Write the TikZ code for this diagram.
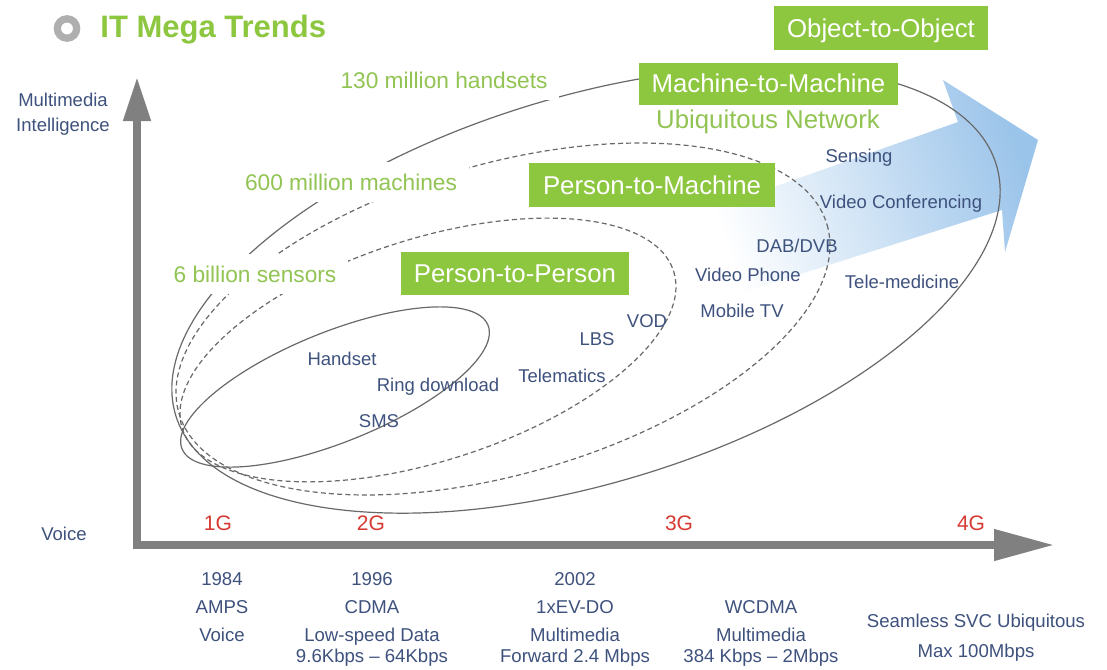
\documentclass[tikz,border=0pt]{standalone}
\usepackage{fontspec}
\setmainfont{Liberation Sans}
\usetikzlibrary{arrows.meta}
\definecolor{boxgreen}{RGB}{141,198,63}
\definecolor{lblgreen}{RGB}{146,196,84}
\definecolor{txtblue}{RGB}{62,82,125}
\definecolor{glred}{RGB}{214,58,50}
\definecolor{axisgray}{RGB}{128,128,128}
\definecolor{curvegray}{RGB}{105,105,105}
\definecolor{ringgray}{RGB}{175,175,175}
\definecolor{arrowblue}{RGB}{155,196,234}
\begin{document}
\begin{tikzpicture}[x=0.5pt,y=-0.5pt,
  bluetxt/.style={anchor=base, inner sep=0pt, text=txtblue, font=\fontsize{9.25}{11}\selectfont},
  bottomtxt/.style={anchor=base, inner sep=0pt, text=txtblue, font=\fontsize{9.3}{11}\selectfont},
  gentxt/.style={anchor=base, inner sep=0pt, text=glred, font=\fontsize{10.5}{12}\selectfont},
  greenlbl/.style={anchor=base, fill=white, inner sep=6pt, text=lblgreen, font=\fontsize{11.35}{13}\selectfont},
  gbox/.style={fill=boxgreen, text=white, inner sep=0pt, text height=9.3pt, text depth=0pt, font=\fontsize{12.9}{15}\selectfont},
  solidcurve/.style={draw=curvegray, line width=0.6pt},
  dashcurve/.style={draw=curvegray, line width=0.6pt, dash pattern=on 2.5pt off 1.6pt},
  axisline/.style={draw=axisgray, line width=3.75pt, line join=miter,
    {Triangle[length=22pt,width=13pt]}-{Triangle[length=30pt,width=15pt]}}
]
% canvas
\path[fill=white] (0,0) rectangle (1107,669);
\useasboundingbox (0,0) rectangle (1107,669);

% title
\draw[draw=ringgray, line width=3.6pt] (67,28.5) circle (9.7);
\node[anchor=base west, inner sep=0pt, text=boxgreen, font=\fontsize{15.5}{18}\selectfont\bfseries] (title) at (100,37.5) {IT Mega Trends};

% big blue arrow
\shade[left color=white, right color=arrowblue, shading angle=108.5]
  (700,213) -- (958,122) -- (943,80) -- (1038,140) -- (1005,252) -- (1002,210) -- (725,298) -- cycle;

% ellipses
\coordinate (cE) at (335,387);
\coordinate (cA) at (428,350);
\coordinate (cB) at (503,319);
\coordinate (cC) at (586,290);
\draw[solidcurve, rotate around={22:(cE)}] (cE) ellipse [x radius=165, y radius=55];
\draw[dashcurve, rotate around={17.8:(cA)}] (cA) ellipse [x radius=258, y radius=111];
\draw[dashcurve, rotate around={16.2:(cB)}] (cB) ellipse [x radius=337.5, y radius=154.8];
\draw[solidcurve, rotate around={17:(cC)}] (cC) ellipse [x radius=429, y radius=193];

% axes
\coordinate (ytip) at (137,77);
\coordinate (xtip) at (1054,545);
\draw[axisline] (ytip) |- (xtip);

% axis labels
\node[bluetxt] (mm) at (63,106) {Multimedia};
\node[bluetxt] (intel) at (63,131) {Intelligence};
\node[bluetxt] (voiceaxis) at (64,540) {Voice};

\node[gentxt] (g1) at (218,530) {1G};
\node[gentxt] (g2) at (371,530) {2G};
\node[gentxt] (g3) at (679,530) {3G};
\node[gentxt] (g4) at (971,530) {4G};

% bottom columns
\node[bottomtxt] (c1a) at (222,585) {1984};
\node[bottomtxt] (c1b) at (222,613) {AMPS};
\node[bottomtxt] (c1c) at (222,641) {Voice};

\node[bottomtxt] (c2a) at (372,585) {1996};
\node[bottomtxt] (c2b) at (372,613) {CDMA};
\node[bottomtxt] (c2c) at (372,641) {Low-speed Data};
\node[bottomtxt] (c2d) at (372,662) {9.6Kbps – 64Kbps};

\node[bottomtxt] (c3a) at (575,585) {2002};
\node[bottomtxt] (c3b) at (575,613) {1xEV-DO};
\node[bottomtxt] (c3c) at (575,641) {Multimedia};
\node[bottomtxt] (c3d) at (575,662) {Forward 2.4 Mbps};

\node[bottomtxt] (c4b) at (761,613) {WCDMA};
\node[bottomtxt] (c4c) at (761,641) {Multimedia};
\node[bottomtxt] (c4d) at (761,662) {384 Kbps – 2Mbps};

\node[bottomtxt] (c5a) at (976,627) {Seamless SVC Ubiquitous};
\node[bottomtxt] (c5b) at (976,657) {Max 100Mbps};

% green labels
\node[greenlbl] (l130) at (444,88) {130 million handsets};
\node[greenlbl] (l600) at (351,190) {600 million machines};
\node[greenlbl] (l6b) at (255,282) {6 billion sensors};
\node[anchor=base, inner sep=0pt, text=lblgreen, font=\fontsize{12.9}{15}\selectfont] (ubiq) at (768,128) {Ubiquitous Network};

% green boxes
\node[gbox, minimum width=107pt, minimum height=22pt] (o2o) at (881,28) {Object-to-Object};
\node[gbox, minimum width=129.5pt, minimum height=21pt] (m2m) at (768.5,83.5) {Machine-to-Machine};
\node[gbox, minimum width=123pt, minimum height=22pt] (p2m) at (652,185) {Person-to-Machine};
\node[gbox, minimum width=114pt, minimum height=21.5pt] (p2p) at (515,273.5) {Person-to-Person};

% service labels
\node[bluetxt] (sensing) at (859,162) {Sensing};
\node[bluetxt] (vconf) at (901,208) {Video Conferencing};
\node[bluetxt] (dab) at (797,252) {DAB/DVB};
\node[bluetxt] (vphone) at (748,281) {Video Phone};
\node[bluetxt] (tele) at (902,288) {Tele-medicine};
\node[bluetxt] (mtv) at (742,317) {Mobile TV};
\node[bluetxt] (vod) at (647,327) {VOD};
\node[bluetxt] (lbs) at (597,345) {LBS};
\node[bluetxt] (telem) at (562,382) {Telematics};
\node[bluetxt] (hand) at (342,365) {Handset};
\node[bluetxt] (ring) at (438,391) {Ring download};
\node[bluetxt] (sms) at (379,427) {SMS};
\end{tikzpicture}
\end{document}
